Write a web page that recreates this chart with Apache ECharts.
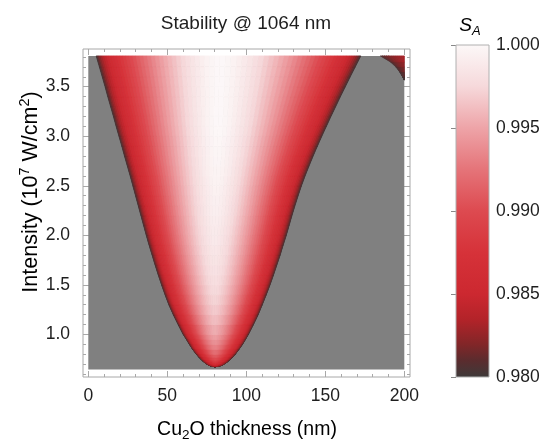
<!DOCTYPE html>
<html><head><meta charset="utf-8">
<script src="https://cdn.jsdelivr.net/npm/echarts@6/dist/echarts.min.js"></script>
<style>html,body{margin:0;padding:0;background:#fff}#c{width:547px;height:440px}</style>
</head><body><div id="c"></div>
<script>
// ---------- data ----------
const xTicks = [0, 50, 100, 150, 200];
const yTicks = [1.0, 1.5, 2.0, 2.5, 3.0, 3.5];
const barTicks = [0.980, 0.985, 0.990, 0.995, 1.000];
const thicknessRange = [0, 200];
const intensityRange = [0.647, 3.81];

// main stability window: boundaries (nm) per intensity level, centre of window, peak S_A
const intensity = [0.675,0.68,0.69,0.70,0.72,0.74,0.77,0.80,0.85,0.90,0.95,1.0,1.1,1.2,1.3,1.4,1.5,1.6,1.7,1.8,1.9,2.0,2.1,2.2,2.3,2.4,2.5,2.6,2.7,2.8,2.9,3.0,3.1,3.2,3.3,3.4,3.5,3.6,3.7,3.81];
const leftEdge  = [80.2,78.0,76.3,75.1,73.3,71.8,70.0,68.4,66.0,64.0,62.1,60.1,56.9,53.8,51.0,48.6,46.4,44.3,42.3,40.4,38.5,36.7,35.0,33.3,31.6,29.9,28.2,26.5,24.7,22.9,21.2,19.4,17.6,15.9,14.1,12.3,10.6,8.8,7.0,5.0];
const centerX   = [80.2,80.2,80.2,80.2,80.2,80.2,80.2,80.2,80.1,80.1,80.0,80.0,80.0,80.0,80.0,80.0,80.0,80.0,80.0,80.0,80.0,80.0,80.2,80.4,80.6,80.8,81.0,81.2,81.4,81.6,81.8,82.0,82.1,82.3,82.4,82.6,82.7,82.8,82.9,83.0];
const rightEdge = [80.2,82.7,84.6,85.8,87.8,89.3,91.3,93.0,95.4,97.6,99.5,101.3,104.5,107.5,110.1,112.6,115.0,117.2,119.3,121.4,123.3,125.3,127.1,128.9,130.8,132.8,134.9,137.2,139.7,142.3,145.0,147.8,150.7,153.6,156.6,159.6,162.7,165.8,169.0,172.5];
const peakSA    = [0.9800,0.9825,0.9850,0.9865,0.9880,0.9893,0.9905,0.9915,0.9928,0.9937,0.9944,0.9950,0.9959,0.9966,0.9971,0.9975,0.9978,0.9981,0.9983,0.9985,0.9987,0.9989,0.9990,0.9992,0.9993,0.9994,0.9995,0.9996,0.9997,0.9998,0.9998,0.9999,1.0,1.0,1.0,1.0,1.0,1.0,1.0,1.0];

// second window entering at the top right
const lobe2Intensity = [3.567, 3.6, 3.65, 3.7, 3.75, 3.81];
const lobe2Left      = [200, 198.9, 197.0, 194.6, 191.2, 184.9];
const lobe2EdgeSA    = [0.980, 0.9806, 0.9814, 0.9821, 0.9828, 0.9836];

// ---------- styling ----------
const FONT = '"Liberation Sans", Arial, Helvetica, sans-serif';
const TXT = '#1e1e1e';
const FRAME = '#a8a8a8';
const cmapStops = [[0.980,'#3d3a3a'],[0.981,'#5a2c2e'],[0.982,'#822628'],[0.9835,'#b32329'],[0.985,'#cc2830'],[0.9875,'#d63239'],[0.990,'#dd4a50'],[0.9925,'#e57479'],[0.995,'#eea4a8'],[0.9975,'#f6d9db'],[1.0,'#fcf8f8']];
function hex2rgb(h){return [parseInt(h.substr(1,2),16),parseInt(h.substr(3,2),16),parseInt(h.substr(5,2),16)];}
function colorAt(v){
  if (v <= cmapStops[0][0]) return cmapStops[0][1];
  for (let i = 1; i < cmapStops.length; i++) {
    if (v <= cmapStops[i][0]) {
      const a = cmapStops[i-1], b = cmapStops[i];
      const t = (v - a[0]) / (b[0] - a[0]);
      const ca = hex2rgb(a[1]), cb = hex2rgb(b[1]);
      return 'rgb(' + ca.map((c,k)=>Math.round(c + (cb[k]-c)*t)).join(',') + ')';
    }
  }
  return cmapStops[cmapStops.length-1][1];
}
// shape of the fall-off from the window centre (u=0) to its edge (u=1)
function falloff(u){ return 0.85 * Math.pow(u, 1.55) + 0.15 * Math.pow(u, 20); }

// ---------- build series data ----------
const bandData = [];
for (let i = 0; i < intensity.length - 1; i++) {
  bandData.push([intensity[i], intensity[i+1], leftEdge[i], leftEdge[i+1], centerX[i], centerX[i+1], rightEdge[i], rightEdge[i+1], peakSA[i], peakSA[i+1]]);
}
const lobe2Data = [];
for (let i = 0; i < lobe2Intensity.length - 1; i++) {
  lobe2Data.push([lobe2Intensity[i], lobe2Intensity[i+1], lobe2Left[i], lobe2Left[i+1], lobe2EdgeSA[i], lobe2EdgeSA[i+1]]);
}

const K = 36;
function renderBand(params, api) {
  const y0 = api.value(0), y1 = api.value(1);
  const L0 = api.value(2), L1 = api.value(3), C0 = api.value(4), C1 = api.value(5);
  const R0 = api.value(6), R1 = api.value(7), V0 = api.value(8), V1 = api.value(9);
  const Vm = (V0 + V1) / 2;
  const children = [];
  function half(E0, E1) {
    for (let k = 0; k < K; k++) {
      const ta = Math.pow(k / K, 1.5), tb = Math.pow((k + 1) / K, 1.5);
      const u = 1 - (ta + tb) / 2;
      const v = Vm - (Vm - 0.98) * falloff(u);
      const col = colorAt(v);
      const pts = [
        api.coord([E0 + ta * (C0 - E0), y0]),
        api.coord([E0 + tb * (C0 - E0), y0]),
        api.coord([E1 + tb * (C1 - E1), y1]),
        api.coord([E1 + ta * (C1 - E1), y1])
      ];
      children.push({type: 'polygon', silent: true, shape: {points: pts}, style: {fill: col, stroke: col, lineWidth: 0.8}});
    }
  }
  half(L0, L1); half(R0, R1);
  return {type: 'group', children};
}
function renderLobe2(params, api) {
  const y0 = api.value(0), y1 = api.value(1);
  const E0 = api.value(2), E1 = api.value(3), V0 = api.value(4), V1 = api.value(5);
  const Vm = (V0 + V1) / 2;
  const xr = thicknessRange[1];
  const children = [];
  const N = 12;
  for (let k = 0; k < N; k++) {
    const ta = k / N, tb = (k + 1) / N;
    const v = 0.98 + (Vm - 0.98) * Math.sqrt((ta + tb) / 2);
    const col = colorAt(v);
    const pts = [
      api.coord([E0 + ta * (xr - E0), y0]),
      api.coord([E0 + tb * (xr - E0), y0]),
      api.coord([E1 + tb * (xr - E1), y1]),
      api.coord([E1 + ta * (xr - E1), y1])
    ];
    children.push({type: 'polygon', silent: true, shape: {points: pts}, style: {fill: col, stroke: col, lineWidth: 0.8}});
  }
  return {type: 'group', children};
}

// minor tick positions
const xMinor = []; for (let v = 0; v <= 200; v += 10) if (v % 50) xMinor.push(v);
const yMinor = []; for (let k = 6; k <= 38; k++) if (k % 5) yMinor.push(k / 10);
const barMinor = []; for (let k = 980; k <= 1000; k++) if (k % 5) barMinor.push(k / 1000);

const X_MIN = -3.35, X_MAX = 203.6, Y_MIN = 0.571, Y_MAX = 3.88;
const TICK_FS = 17.5;
function xAx(pos, vals, len, labels) {
  return {gridIndex: 0, type: 'value', min: X_MIN, max: X_MAX, position: pos,
    axisLine: {show: false, onZero: false}, splitLine: {show: false},
    axisTick: {show: true, inside: true, length: len, customValues: vals, lineStyle: {color: FRAME, width: 1}},
    axisLabel: labels ? {show: true, customValues: vals, margin: 10, color: TXT, fontSize: TICK_FS, fontFamily: FONT} : {show: false}};
}
function yAx(pos, vals, len, labels) {
  return {gridIndex: 0, type: 'value', min: Y_MIN, max: Y_MAX, position: pos,
    axisLine: {show: false, onZero: false}, splitLine: {show: false},
    axisTick: {show: true, inside: true, length: len, customValues: vals, lineStyle: {color: FRAME, width: 1}},
    axisLabel: labels ? {show: true, customValues: vals, margin: 13, color: TXT, fontSize: TICK_FS, fontFamily: FONT, formatter: v => v.toFixed(1)} : {show: false}};
}

const chart = echarts.init(document.getElementById('c'), null, {renderer: 'canvas'});
chart.setOption({
  animation: false,
  backgroundColor: '#ffffff',
  grid: [
    {left: 83, top: 49, width: 327, height: 328, show: true, borderColor: FRAME, borderWidth: 1, backgroundColor: 'transparent'},
    {left: 456, top: 45, width: 33, height: 332, show: false}
  ],
  xAxis: [
    xAx('bottom', xTicks, 6, true), xAx('bottom', xMinor, 3, false),
    xAx('top', xTicks, 6, false), xAx('top', xMinor, 3, false),
    {gridIndex: 1, type: 'value', min: 0, max: 1, show: false}
  ],
  yAxis: [
    yAx('left', yTicks, 6, true), yAx('left', yMinor, 3, false),
    yAx('right', yTicks, 6, false), yAx('right', yMinor, 3, false),
    {gridIndex: 1, type: 'value', min: 0.98, max: 1.0, position: 'right',
      axisLine: {show: false}, splitLine: {show: false},
      axisTick: {show: true, inside: true, length: 5, customValues: barTicks, lineStyle: {color: '#888'}},
      axisLabel: {show: true, customValues: barTicks, margin: 7, color: TXT, fontSize: TICK_FS, fontFamily: FONT, formatter: v => v.toFixed(3)}},
    {gridIndex: 1, type: 'value', min: 0.98, max: 1.0, position: 'right',
      axisLine: {show: false}, splitLine: {show: false},
      axisTick: {show: true, inside: true, length: 3, customValues: barMinor, lineStyle: {color: '#888'}},
      axisLabel: {show: false}}
  ],
  series: [
    {type: 'custom', xAxisIndex: 0, yAxisIndex: 0, z: 1, silent: true,
      data: [[thicknessRange[0], intensityRange[0], thicknessRange[1], intensityRange[1]]],
      renderItem: function (params, api) {
        const p0 = api.coord([api.value(0), api.value(3)]);
        const p1 = api.coord([api.value(2), api.value(1)]);
        return {type: 'rect', shape: {x: p0[0], y: p0[1], width: p1[0] - p0[0], height: p1[1] - p0[1]}, style: {fill: '#808080'}};
      }},
    {type: 'custom', xAxisIndex: 0, yAxisIndex: 0, z: 2, silent: true, data: bandData, renderItem: renderBand},
    {type: 'custom', xAxisIndex: 0, yAxisIndex: 0, z: 2, silent: true, data: lobe2Data, renderItem: renderLobe2},
    {type: 'custom', xAxisIndex: 4, yAxisIndex: 4, z: 1, silent: true,
      data: [[0, barTicks[0], 1, barTicks[barTicks.length - 1]]],
      renderItem: function (params, api) {
        const p0 = api.coord([api.value(0), api.value(3)]);
        const p1 = api.coord([api.value(2), api.value(1)]);
        const lo = api.value(1), hi = api.value(3);
        const stops = cmapStops.map(s => ({offset: (s[0] - lo) / (hi - lo), color: s[1]}));
        return {type: 'rect', shape: {x: p0[0], y: p0[1], width: p1[0] - p0[0], height: p1[1] - p0[1]},
          style: {fill: new echarts.graphic.LinearGradient(0, 1, 0, 0, stops), stroke: '#b0b0b0', lineWidth: 1}};
      }}
  ],
  graphic: [
    {type: 'text', x: 246, y: 24, style: {text: 'Stability @ 1064 nm', font: '19px ' + FONT, fill: TXT, align: 'center', verticalAlign: 'middle'}},
    {type: 'text', x: 247, y: 430, style: {text: '{a|Cu}{b|2}{a|O thickness (nm)}', align: 'center', verticalAlign: 'middle',
      rich: {a: {fontSize: 19.5, fontFamily: FONT, color: TXT}, b: {fontSize: 13.5, fontFamily: FONT, color: TXT, padding: [11, 0, 0, 0]}}}},
    {type: 'text', x: 31, y: 192, rotation: Math.PI / 2, style: {text: '{a|Intensity (10}{b|7}{a| W/cm}{b|2}{a|)}', align: 'center', verticalAlign: 'middle',
      rich: {a: {fontSize: 21.5, fontFamily: FONT, color: TXT}, b: {fontSize: 14.5, fontFamily: FONT, color: TXT, padding: [0, 0, 12, 0]}}}},
    {type: 'text', x: 470, y: 26, style: {text: '{a|S}{b|A}', align: 'center', verticalAlign: 'middle',
      rich: {a: {fontSize: 19, fontStyle: 'italic', fontFamily: FONT, color: TXT}, b: {fontSize: 13, fontStyle: 'italic', fontFamily: FONT, color: TXT, padding: [10, 0, 0, 0]}}}}
  ]
});
</script>
</body></html>
